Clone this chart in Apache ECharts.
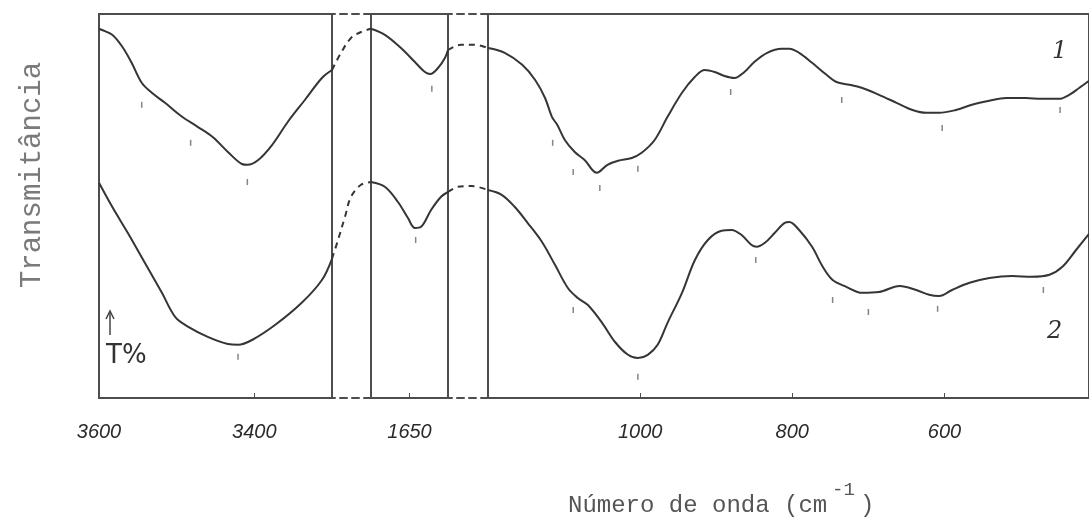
<!DOCTYPE html>
<html>
<head>
<meta charset="utf-8">
<script src="https://cdn.jsdelivr.net/npm/echarts/dist/echarts.min.js"></script>
<style>
  html, body { margin: 0; padding: 0; background: #fff; }
  #chart { width: 1089px; height: 524px; }
</style>
</head>
<body>
<div id="chart"></div>
<script>
// spectrum 1 (upper) : [wavenumber cm-1, T]
const curve1 = [
  [3600, 92.3], [3596, 92], [3583, 90.8], [3570, 87.8], [3558, 83.8], [3545, 78.8],
  [3532, 76.3], [3515, 73.8], [3493, 70.3], [3473, 67.8], [3454, 65.3], [3434, 61.5],
  [3416, 58.5], [3409, 58.3], [3395, 59.5], [3377, 63.3], [3357, 69], [3335, 74.5],
  [3313, 80], [3300, 82],
  [2931, 86.3], [2520, 90], [2110, 91.5], [1700, 92.3],
  [1682, 90.8], [1661, 87.5], [1643, 84], [1630, 81.5], [1623, 81], [1613, 82.5],
  [1604, 85], [1600, 87],
  [1470, 88.3], [1330, 88.3], [1200, 87.5],
  [1178, 86.3], [1155, 83.3], [1138, 79.5], [1125, 75], [1116, 70.3], [1109, 68.3],
  [1099, 64.5], [1086, 61.5], [1073, 59.5], [1057, 56.3], [1043, 58.3], [1029, 59.3],
  [1011, 60], [998, 61.3], [981, 64.5], [964, 70.3], [945, 76.3], [928, 80.3],
  [915, 82], [902, 81.5], [889, 80.5], [876, 80], [863, 81.5], [850, 84], [833, 86.3],
  [814, 87.3], [804, 87.3], [791, 86.3], [774, 83.8], [755, 80.8], [742, 79],
  [725, 78.3], [708, 77.5], [686, 75.8], [663, 73.8], [642, 72], [624, 71.3],
  [607, 71.3], [585, 72], [564, 73.3], [541, 74.3], [519, 75], [493, 75], [472, 74.8],
  [449, 74.8], [436, 75.8], [423, 77.5], [410, 79.3]
];

// spectrum 2 (lower)
const curve2 = [
  [3600, 53.8], [3583, 47.8], [3563, 41.3], [3541, 33.8], [3519, 26.3], [3502, 20.3],
  [3485, 17.8], [3460, 15.3], [3434, 13.5], [3421, 13.3], [3403, 14.5], [3373, 18.3],
  [3339, 23.8], [3313, 29.5], [3300, 34.8],
  [3054, 39.5], [2767, 45.3], [2520, 50.3], [2110, 53.3], [1700, 54],
  [1682, 52.8], [1665, 49], [1652, 45], [1643, 42.5], [1635, 42.8], [1622, 47],
  [1609, 50.3], [1600, 51.5],
  [1500, 52.8], [1370, 53], [1200, 52],
  [1182, 50.8], [1165, 47.8], [1148, 43.8], [1129, 39], [1112, 33.3], [1095, 27.5],
  [1082, 25], [1069, 23.3], [1050, 18.8], [1033, 14], [1016, 10.8], [1003, 10],
  [990, 10.8], [977, 13.3], [964, 18.8], [945, 26.3], [928, 34.5], [911, 39.5],
  [893, 41.8], [880, 42], [867, 40.8], [854, 38.3], [847, 37.8], [836, 38.8],
  [823, 41.3], [810, 43.8], [804, 44], [791, 42], [774, 37.8], [760, 32.8],
  [747, 29.5], [729, 27.8], [708, 26.3], [686, 26.5], [659, 28], [637, 27],
  [620, 25.8], [607, 25.5], [590, 27], [567, 28.8], [541, 30], [511, 30.5],
  [485, 30.3], [462, 30.8], [445, 32.8], [427, 37], [410, 41]
];

// small marks under the bands
const peaks1 = [
  [3545, 73.3], [3482, 63.8], [3409, 54], [1621, 77.3], [1115, 63.8], [1088, 56.5],
  [1053, 52.5], [1003, 57.3], [881, 76.5], [735, 74.5], [603, 67.5], [448, 72]
];
const peaks2 = [
  [3421, 10.3], [1642, 39.5], [1088, 22], [1003, 5.3], [848, 34.5], [747, 24.5],
  [700, 21.5], [609, 22.3], [470, 27]
];

const ticksA = [3600, 3400];
const ticksB = [1650];
const ticksC = [1000, 800, 600];

const segs = [
  { min: 3300, max: 3600, left: 99, width: 233, gap: false, ticks: ticksA },
  { min: 1700, max: 3300, left: 332, width: 39, gap: true },
  { min: 1600, max: 1700, left: 371, width: 77, gap: false, ticks: ticksB },
  { min: 1200, max: 1600, left: 448, width: 40, gap: true },
  { min: 410, max: 1200, left: 488, width: 602, gap: false, ticks: ticksC }
];

const ink = "#353535";
const frame = "#4d4d4d";

let grids = [];
let xAxes = [];
let yAxes = [];
let series = [];

segs.forEach((s, i) => {
  grids.push({
    left: s.left, width: s.width, top: 14, height: 384,
    show: !s.gap, borderColor: frame, borderWidth: 2
  });
  let xi = xAxes.length;
  xAxes.push({
    gridIndex: i, type: "value", inverse: true, min: s.min, max: s.max,
    position: "bottom",
    axisLine: { show: s.gap, onZero: false, lineStyle: { color: frame, width: 2, type: [7, 5] } },
    axisTick: { show: !s.gap, inside: true, length: 5, customValues: s.ticks || [], lineStyle: { color: frame } },
    axisLabel: {
      show: !s.gap, customValues: s.ticks || [], margin: 24,
      formatter: (v) => String(v),
      fontFamily: "Liberation Sans", fontStyle: "italic", fontSize: 20, color: "#2a2a2a"
    },
    splitLine: { show: false }
  });
  if (s.gap) {
    xAxes.push({
      gridIndex: i, type: "value", inverse: true, min: s.min, max: s.max,
      position: "top",
      axisLine: { show: true, onZero: false, lineStyle: { color: frame, width: 2, type: [7, 5] } },
      axisTick: { show: false }, axisLabel: { show: false }, splitLine: { show: false }
    });
  }
  yAxes.push({ gridIndex: i, type: "value", min: 0, max: 96, show: false });

  [curve1, curve2].forEach((c, k) => {
    series.push({
      name: "curva " + (k + 1),
      type: "line",
      xAxisIndex: xi, yAxisIndex: i,
      data: c.filter(p => p[0] >= s.min && p[0] <= s.max),
      smooth: 0.35, showSymbol: false, silent: true,
      lineStyle: { color: ink, width: 2, type: s.gap ? [6, 5] : "solid" }
    });
  });
  if (!s.gap) {
    [peaks1, peaks2].forEach(pk => {
      series.push({
        type: "scatter",
        xAxisIndex: xi, yAxisIndex: i,
        data: pk.filter(p => p[0] >= s.min && p[0] <= s.max),
        symbol: "rect", symbolSize: [1.5, 6], silent: true,
        itemStyle: { color: "#666" }
      });
    });
  }
});

let myChart = echarts.init(document.querySelector("#chart"));
let option = {
  backgroundColor: "#fff",
  animation: false,
  grid: grids,
  xAxis: xAxes,
  yAxis: yAxes,
  series: series,
  graphic: [
    {
      type: "text", x: 32, y: 175, rotation: Math.PI / 2,
      style: {
        text: "Transmitância", fontFamily: "Liberation Mono", fontSize: 29,
        fill: "#7a7a7a", textAlign: "center", textVerticalAlign: "middle"
      }
    },
    {
      type: "text", left: 568, top: 494,
      style: { text: "Número de onda (cm", fontFamily: "Liberation Mono", fontSize: 24, fill: "#555" }
    },
    {
      type: "text", left: 832, top: 480,
      style: { text: "-1", fontFamily: "Liberation Mono", fontSize: 19, fill: "#555" }
    },
    {
      type: "text", left: 860, top: 494,
      style: { text: ")", fontFamily: "Liberation Mono", fontSize: 24, fill: "#555" }
    },
    {
      type: "text", left: 106, top: 343,
      style: { text: "T%", fontFamily: "DejaVu Sans", fontSize: 26, fill: "#333" }
    },
    {
      type: "line", shape: { x1: 110, y1: 312, x2: 110, y2: 335 },
      style: { stroke: "#444", lineWidth: 1.5 }
    },
    {
      type: "polyline", shape: { points: [[106, 319], [110, 311], [114, 319]] },
      style: { stroke: "#444", lineWidth: 1.5, fill: null }
    },
    {
      type: "text", left: 1052, top: 40,
      style: { text: "1", fontFamily: "DejaVu Serif", fontStyle: "italic", fontSize: 24, fill: "#333" }
    },
    {
      type: "text", left: 1047, top: 320,
      style: { text: "2", fontFamily: "DejaVu Serif", fontStyle: "italic", fontSize: 24, fill: "#333" }
    }
  ]
};
myChart.setOption(option);
window.addEventListener("resize", () => {
  myChart.resize();
});
</script>
</body>
</html>
